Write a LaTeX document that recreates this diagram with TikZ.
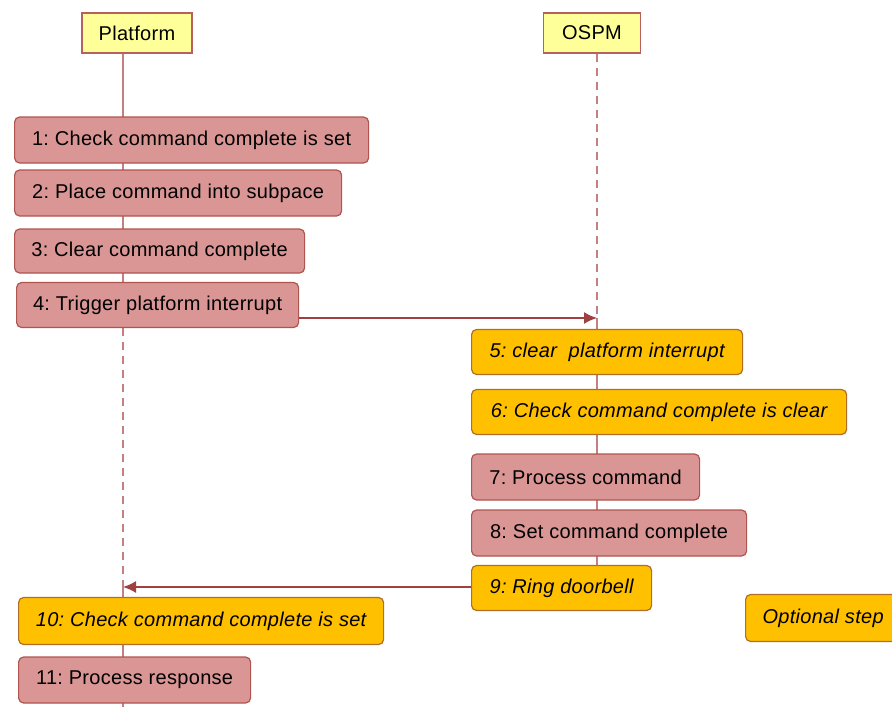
\documentclass[tikz,border=0pt]{standalone}
\usepackage{fontspec}
\setmainfont[LetterSpace=1.5]{Liberation Sans}
\usetikzlibrary{positioning,arrows.meta,backgrounds}
\definecolor{hdrfill}{RGB}{255,255,153}
\definecolor{hdrline}{RGB}{184,96,96}
\definecolor{stepfill}{RGB}{217,150,148}
\definecolor{stepline}{RGB}{176,84,80}
\definecolor{optfill}{RGB}{255,192,0}
\definecolor{optline}{RGB}{176,110,40}
\definecolor{lifeline}{RGB}{196,128,128}
\definecolor{msgline}{RGB}{160,64,64}
\frenchspacing

\begin{document}
\begin{tikzpicture}[
  x=1pt, y=-1pt,
  every node/.style={font=\fontsize{20}{24}\selectfont},
  actor/.style={draw=hdrline, line width=1.2pt, fill=hdrfill,
    minimum height=40pt, inner sep=0pt},
  plainstep/.style={rounded corners=5pt, draw=stepline, line width=1.2pt,
    fill=stepfill, anchor=west, inner sep=0pt},
  optstep/.style={rounded corners=5pt, draw=optline, line width=1.2pt,
    fill=optfill, anchor=west, inner sep=0pt,
    font=\fontsize{20}{24}\selectfont\itshape},
  life/.style={draw=lifeline, line width=1.8pt},
  dlife/.style={life, dash pattern=on 8pt off 6pt},
  msg/.style={draw=msgline, line width=1.6pt, -{Latex[length=13pt,width=12pt]}}
]
  \useasboundingbox (0,0) rectangle (892,707);

  % --- Actors ---
  \node[actor, minimum width=110pt] (plat) at (137,33) {Platform};
  \node[actor, minimum width=97pt]  (ospm) at (592,33) {OSPM};

  \coordinate (ospmin) at (597,318);
  \coordinate (platin) at (123,587);
  \coordinate (platend) at (123,707);
  \coordinate (platmid) at (123,328);
  \coordinate (ospmend) at (597,600);

  % --- Lifelines ---
  \draw[life]  (plat.south -| platin) -- (platmid);
  \draw[dlife] (platmid) -- (platin);
  \draw[life]  (platin) -- (platend);
  \draw[dlife] (ospm.south -| ospmin) -- (ospmin);
  \draw[life]  (ospmin) -- (ospmend);

  % --- Platform steps ---
  \node[plainstep, minimum width=354pt, minimum height=46pt] (p1) at (14,140) {1: Check command complete is set};
  \node[plainstep, minimum width=327pt, minimum height=46pt] (p2) at (14,193) {2: Place command into subpace};
  \node[plainstep, minimum width=290pt, minimum height=44pt] (p3) at (14,251) {3: Clear command complete};
  \node[plainstep, minimum width=282pt, minimum height=45pt] (p4) at (16,305) {4: Trigger platform interrupt};

  % --- OSPM steps ---
  \node[optstep,   minimum width=271pt, minimum height=45pt] (o5) at (471,352) {5: clear\ \ platform interrupt};
  \node[optstep,   minimum width=375pt, minimum height=45pt] (o6) at (471,412) {6: Check command complete is clear};
  \node[plainstep, minimum width=228pt, minimum height=46pt] (o7) at (471,477) {7: Process command};
  \node[plainstep, minimum width=275pt, minimum height=46pt] (o8) at (471,533) {8: Set command complete};
  \node[optstep,   minimum width=180pt, minimum height=45pt] (o9) at (471,588) {9: Ring doorbell};

  % --- Platform response ---
  \node[optstep,   minimum width=365pt, minimum height=47pt] (p10) at (18,621) {10: Check command complete is set};
  \node[plainstep, minimum width=232pt, minimum height=46pt] (p11) at (18,680) {11: Process response};

  % --- Legend ---
  \node[optstep,   minimum width=155pt, minimum height=47pt] (legend) at (745,618) {Optional step};

  % --- Messages ---
  \draw[msg] (p4.east |- ospmin) -- (ospmin);
  \draw[msg] (o9.west |- platin) -- (platin);
\end{tikzpicture}
\end{document}
